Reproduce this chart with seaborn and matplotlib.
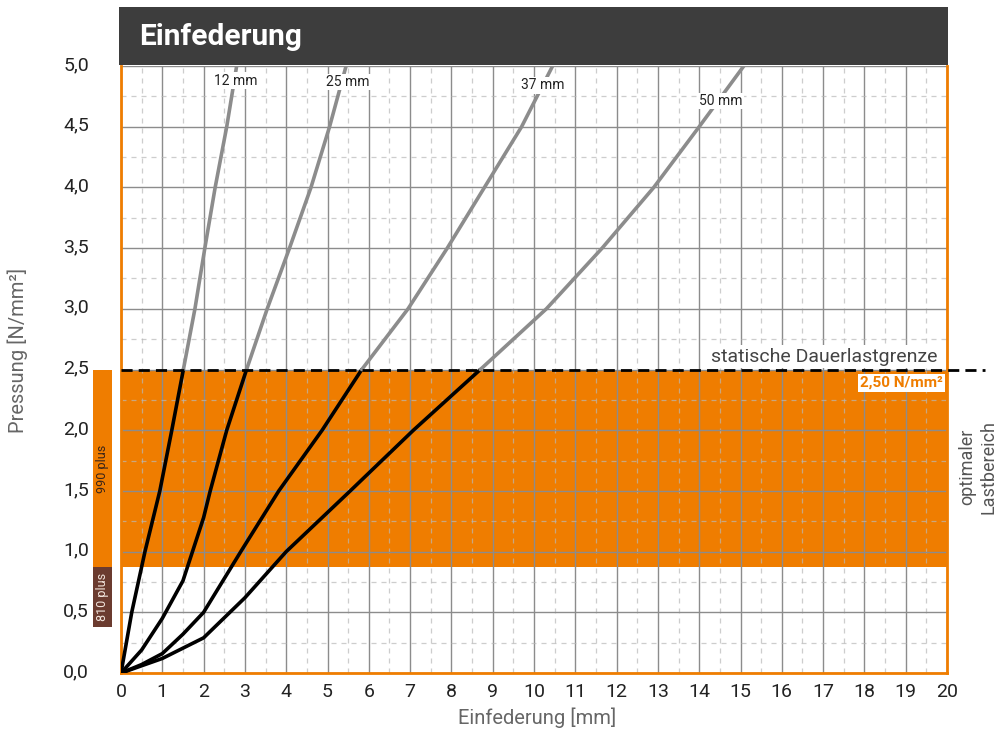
import matplotlib
matplotlib.use("Agg")
import matplotlib.pyplot as plt
from matplotlib.patches import Rectangle
from matplotlib.ticker import MultipleLocator, FuncFormatter
from matplotlib.transforms import ScaledTranslation
import seaborn as sns
import pandas as pd

# -----------------------------------
# Data
# -----------------------------------

curve_names = ["12 mm", "25 mm", "37 mm", "50 mm"]

# black part: up to the static limit
x_12_low = [0, 0.26, 0.58, 0.94, 1.23, 1.51]
y_12_low = [0, 0.5, 1.0, 1.5, 2.0, 2.5]
x_25_low = [0, 0.5, 1.0, 1.5, 2.0, 2.16, 2.56, 3.04]
y_25_low = [0, 0.19, 0.45, 0.76, 1.28, 1.5, 2.0, 2.5]
x_37_low = [0, 0.5, 1.0, 1.5, 2.0, 2.9, 3.82, 4.87, 5.83]
y_37_low = [0, 0.07, 0.16, 0.32, 0.5, 1.0, 1.5, 2.0, 2.5]
x_50_low = [0, 0.5, 1.0, 2.0, 3.0, 4.0, 5.55, 7.08, 8.7]
y_50_low = [0, 0.06, 0.12, 0.29, 0.62, 1.0, 1.5, 2.0, 2.5]

# grey part: above the static limit
x_12_high = [1.51, 1.79, 2.03, 2.28, 2.56, 2.8]
y_12_high = [2.5, 3.0, 3.5, 4.0, 4.5, 5.0]
x_25_high = [3.04, 3.54, 4.08, 4.6, 5.05, 5.45]
y_25_high = [2.5, 3.0, 3.5, 4.0, 4.5, 5.0]
x_37_high = [5.83, 6.95, 7.9, 8.8, 9.7, 10.45]
y_37_high = [2.5, 3.0, 3.5, 4.0, 4.5, 5.0]
x_50_high = [8.7, 10.3, 11.65, 12.9, 14.0, 15.08]
y_50_high = [2.5, 3.0, 3.5, 4.0, 4.5, 5.0]

dauerlast = 2.5
optimal_range = [0.87, 2.5]
range_990 = [0.87, 2.5]
range_810 = [0.38, 0.87]

x_ticks = list(range(0, 21))
y_ticks = [0, 0.5, 1.0, 1.5, 2.0, 2.5, 3.0, 3.5, 4.0, 4.5, 5.0]

ORANGE = "#ef7d00"
BROWN = "#6b3b2f"
GREY = "#8c8c8c"

# -----------------------------------
# Long table for seaborn
# -----------------------------------

parts = [
    ("12 mm", "low", x_12_low, y_12_low),
    ("25 mm", "low", x_25_low, y_25_low),
    ("37 mm", "low", x_37_low, y_37_low),
    ("50 mm", "low", x_50_low, y_50_low),
    ("12 mm", "high", x_12_high, y_12_high),
    ("25 mm", "high", x_25_high, y_25_high),
    ("37 mm", "high", x_37_high, y_37_high),
    ("50 mm", "high", x_50_high, y_50_high),
]

frames = []
for name, part, xs, ys in parts:
    frames.append(pd.DataFrame({
        "x": xs, "y": ys, "part": part, "unit": name + part
    }))
df = pd.concat(frames, ignore_index=True)

# -----------------------------------
# Figure
# -----------------------------------

sns.set_style("white")
plt.rcParams["font.family"] = ["Roboto", "DejaVu Sans"]

fig = plt.figure(figsize=(10, 7.31), dpi=100)
ax = fig.add_axes([0.121, 0.0793, 0.826, 0.8304])

ax.set_xlim(0, 20)
ax.set_ylim(0, 5)

# orange optimum band
ax.axhspan(optimal_range[0], optimal_range[1], color=ORANGE, lw=0, zorder=0.1)

# grid
ax.set_xticks(x_ticks)
ax.set_yticks(y_ticks)
ax.xaxis.set_minor_locator(MultipleLocator(0.5))
ax.yaxis.set_minor_locator(MultipleLocator(0.25))
ax.grid(which="major", color=GREY, lw=1.0, ls="-")
ax.grid(which="minor", color="#b8b8b8", lw=0.9, ls=(0, (4, 4)), alpha=0.7)

sns.lineplot(
    data=df, x="x", y="y", hue="part", units="unit",
    estimator=None, sort=False,
    palette={"low": "black", "high": GREY},
    lw=2.6, legend=False, ax=ax, zorder=3
)

ax.set_xlabel("")
ax.set_ylabel("")

ax.yaxis.set_major_formatter(
    FuncFormatter(lambda v, p: f"{v:.1f}".replace(".", ","))
)
ax.tick_params(axis="both", which="both", length=0,
               labelsize=14, labelcolor="#222222")
ax.tick_params(axis="y", pad=23)
ax.tick_params(axis="x", pad=7)

shift = ScaledTranslation(0, 3 / 100, fig.dpi_scale_trans)
for lab in ax.get_yticklabels():
    lab.set_transform(lab.get_transform() + shift)

for side in ["left", "right", "bottom"]:
    ax.spines[side].set_color(ORANGE)
    ax.spines[side].set_linewidth(2)
ax.spines["top"].set_visible(False)

# static limit line
ax.axhline(dauerlast, xmin=0, xmax=1.046, color="black",
           ls=(0, (4, 2.2)), lw=2, clip_on=False, zorder=4)

ax.text(19.77, 2.566, "statische Dauerlastgrenze",
        ha="right", va="baseline", fontsize=14, color="#444444",
        bbox=dict(facecolor="white", edgecolor="none", pad=2), zorder=5)

ax.text(19.9, 2.356, "2,50 N/mm²",
        ha="right", va="baseline", fontsize=11, color=ORANGE, weight="bold",
        bbox=dict(facecolor="white", edgecolor="none", pad=1.5), zorder=5)

# curve labels
label_pos = [(2.77, 4.88), (5.5, 4.87), (10.22, 4.84), (14.53, 4.71)]
for name, (lx, ly) in zip(curve_names, label_pos):
    ax.text(lx, ly, name, ha="center", va="center", fontsize=10,
            color="#222222",
            bbox=dict(facecolor="white", edgecolor="none", pad=0.8), zorder=5)

# product bars left of the axis
ytrans = ax.get_yaxis_transform()
ax.add_patch(Rectangle((-0.0339, range_990[0]), 0.023,
                       range_990[1] - range_990[0], transform=ytrans,
                       color=ORANGE, lw=0, clip_on=False))
ax.add_patch(Rectangle((-0.0339, range_810[0]), 0.023,
                       range_810[1] - range_810[0], transform=ytrans,
                       color=BROWN, lw=0, clip_on=False))
ax.text(-0.0224, sum(range_990) / 2, "990 plus", transform=ytrans,
        rotation=90, ha="center", va="center", fontsize=9,
        color="#3a2418")
ax.text(-0.0224, sum(range_810) / 2, "810 plus", transform=ytrans,
        rotation=90, ha="center", va="center", fontsize=9,
        color="#f2e4dc")

# title bar
fig.patches.append(Rectangle((0.119, 0.911), 0.829, 0.0793,
                             transform=fig.transFigure,
                             color="#3d3d3d", lw=0))
fig.text(0.139, 0.9384, "Einfederung", fontsize=21.5, weight="bold",
         color="white", va="baseline")

# axis titles
fig.text(0.0175, 0.520, "Pressung [N/mm²]", rotation=90,
         ha="center", va="center", fontsize=14.5, color="#666666")
fig.text(0.537, 0.0178, "Einfederung [mm]",
         ha="center", va="center", fontsize=14.5, color="#666666")
fig.text(0.978, 0.361, "optimaler\nLastbereich", rotation=90,
         ha="center", va="center", fontsize=13, color="#555555",
         multialignment="center")

fig.savefig("out.png", dpi=100)
